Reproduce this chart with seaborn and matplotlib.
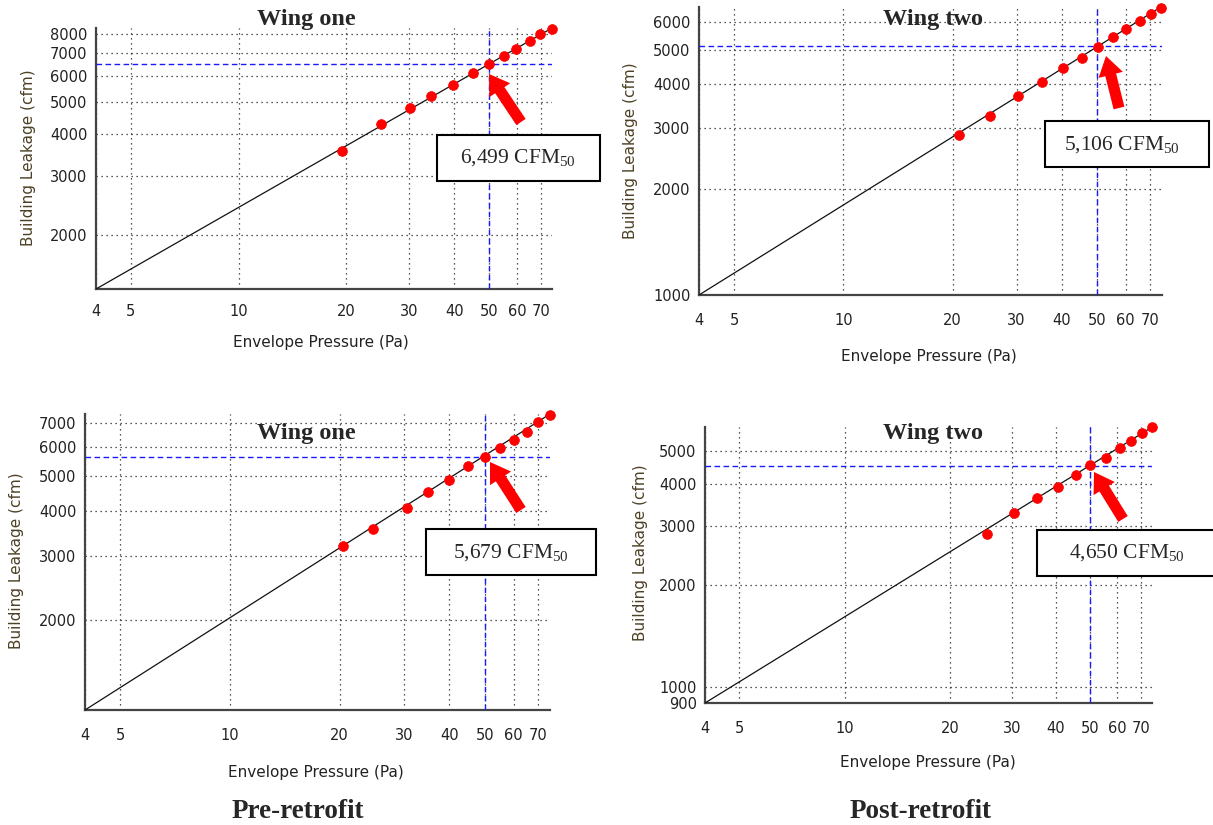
import matplotlib
matplotlib.use("Agg")
import matplotlib.pyplot as plt
import seaborn as sns
from matplotlib.patches import Rectangle, FancyArrowPatch
from matplotlib.ticker import FixedLocator, FixedFormatter, NullFormatter, NullLocator

# ---------------- data ----------------
w1pre_pa = [19.5, 25.0, 30.2, 34.4, 39.6, 45.0, 50.0, 55.0, 59.5, 65.0, 69.6, 74.8]
w1pre_cfm = [3565, 4285, 4797, 5215, 5611, 6110, 6486, 6860, 7230, 7603, 8000, 8300]
w2pre_pa = [20.8, 25.4, 30.3, 35.3, 40.4, 45.5, 50.2, 55.5, 60.0, 65.6, 70.4, 75.2]
w2pre_cfm = [2857, 3244, 3700, 4038, 4437, 4737, 5081, 5451, 5742, 6053, 6312, 6579]
w1post_pa = [20.4, 24.7, 30.5, 35.0, 40.0, 44.9, 50.0, 55.2, 60.1, 65.3, 70.2, 75.5]
w1post_cfm = [3205, 3573, 4066, 4510, 4869, 5322, 5625, 5957, 6271, 6600, 7060, 7385]
w2post_pa = [25.4, 30.5, 35.3, 40.5, 45.6, 50.1, 55.6, 60.9, 65.6, 70.6, 75.3]
w2post_cfm = [2850, 3270, 3636, 3922, 4259, 4541, 4787, 5114, 5366, 5647, 5884]

# fitted power-law line end points (pressure, flow)
fit_pa = [[4, 75.0], [4, 75.5], [4, 75.5], [4, 75.3]]
fit_cfm = [[1378, 8330], [1000, 6650], [1125, 7410], [897, 5890]]

# CFM50 reference levels (dashed lines) and box texts
ref_pa = 50
ref_cfm = [6500, 5110, 5650, 4510]
box_texts = ["6,499", "5,106", "5,679", "4,650"]
titles = ["Wing one", "Wing two", "Wing one", "Wing two"]
x_ticks = [4, 5, 10, 20, 30, 40, 50, 60, 70]
x_tick_labels = ["4", "5", "10", "20", "30", "40", "50", "60", "70"]
x_minor = [6, 7, 8, 9]
y_ticks = [[2000, 3000, 4000, 5000, 6000, 7000, 8000],
           [1000, 2000, 3000, 4000, 5000, 6000],
           [2000, 3000, 4000, 5000, 6000, 7000],
           [900, 1000, 2000, 3000, 4000, 5000]]
xlims = [(4, 75.0), (4, 75.5), (4, 75.5), (4, 75.3)]
ylims = [(1378, 8330), (1000, 6620), (1125, 7410), (897, 5896)]
group_labels = ["Pre-retrofit", "Post-retrofit"]

series_pa = [w1pre_pa, w2pre_pa, w1post_pa, w2post_pa]
series_cfm = [w1pre_cfm, w2pre_cfm, w1post_cfm, w2post_cfm]

# ---------------- layout (pixels) ----------------
W, H = 1213, 825
rects = [(96, 28, 552, 289), (699, 7, 1162, 295), (85, 414, 550, 710), (705, 427, 1152, 703)]
title_pos = [(306, 19), (933, 20), (306, 433), (933, 433)]
xlab_pos = [(321, 343), (929, 356), (316, 773), (928, 762)]
ylab_pos = [(29, 158), (631, 151), (17, 561), (640, 553)]
tick_pads = [8, 10, 10, 10]
boxes = [(437, 135, 600, 181), (1045, 121, 1209, 167), (426, 529, 596, 575), (1037, 530, 1216, 576)]
box_text_pos = [(518, 158), (1122, 145), (511, 553), (1127, 553)]
arrows = [((521, 122), (489, 74)), ((1119, 108), (1106, 56)),
          ((521, 510), (490, 462)), ((1123, 519), (1094, 472))]
group_pos = [(298, 811), (921, 811)]

sns.set_style("white")
plt.rcParams["font.family"] = ["DejaVu Sans"]
plt.rcParams["mathtext.fontset"] = "custom"
plt.rcParams["mathtext.rm"] = "Liberation Serif"

fig = plt.figure(figsize=(W / 100, H / 100), dpi=100)
fig.patch.set_facecolor("white")


def fx(px):
    return px / W


def fy(py):
    return 1 - py / H


for i in range(4):
    l, t, r, b = rects[i]
    ax = fig.add_axes([fx(l), fy(b), (r - l) / W, (b - t) / H])
    ax.set_facecolor("white")
    ax.set_xscale("log")
    ax.set_yscale("log")

    sns.lineplot(x=fit_pa[i], y=fit_cfm[i], ax=ax, color="#111111", lw=0.9, zorder=3)
    sns.scatterplot(x=series_pa[i], y=series_cfm[i], ax=ax, color="#ff0000", s=50,
                    edgecolor="#ff0000", linewidth=0.5, zorder=5, clip_on=False)
    ax.axvline(ref_pa, color="#1a1aff", lw=1.0, ls=(0, (4, 2.5)), zorder=4)
    ax.axhline(ref_cfm[i], color="#1a1aff", lw=1.0, ls=(0, (4, 2.5)), zorder=4)

    ax.set_xlim(*xlims[i])
    ax.set_ylim(*ylims[i])

    ax.xaxis.set_major_locator(FixedLocator(x_ticks))
    ax.xaxis.set_major_formatter(FixedFormatter(x_tick_labels))
    ax.xaxis.set_minor_locator(FixedLocator(x_minor))
    ax.xaxis.set_minor_formatter(NullFormatter())
    ax.yaxis.set_major_locator(FixedLocator(y_ticks[i]))
    ax.yaxis.set_major_formatter(FixedFormatter([str(v) for v in y_ticks[i]]))
    ax.yaxis.set_minor_locator(NullLocator())

    ax.grid(True, which="major", ls=(0, (1, 3)), color="#222222", lw=0.9)
    ax.set_axisbelow(True)

    for s in ["top", "right"]:
        ax.spines[s].set_visible(False)
    for s in ["left", "bottom"]:
        ax.spines[s].set_color("#444444")
        ax.spines[s].set_linewidth(1.6)

    ax.tick_params(axis="x", which="major", direction="inout", length=6, width=1,
                   color="#333333", pad=tick_pads[i], labelsize=10.5, labelcolor="#222222")
    ax.tick_params(axis="x", which="minor", direction="inout", length=5, width=1,
                   color="#333333")
    ax.tick_params(axis="y", which="major", direction="out", length=5, width=1,
                   color="#333333", pad=1, labelsize=10.5, labelcolor="#222222")

    ax.set_xlabel("Envelope Pressure (Pa)", fontsize=11, color="#222222", va="center")
    ax.set_ylabel("Building Leakage (cfm)", fontsize=11, color="#4d4125", va="center")
    xl, yl = xlab_pos[i]
    ax.xaxis.set_label_coords((xl - l) / (r - l), (b - yl) / (b - t))
    xl, yl = ylab_pos[i]
    ax.yaxis.set_label_coords((xl - l) / (r - l), (b - yl) / (b - t))

    # title
    tx, ty = title_pos[i]
    fig.text(fx(tx), fy(ty), titles[i], ha="center", va="center", fontsize=17.5,
             fontweight="bold", family="Liberation Serif", zorder=6)

    # annotation box
    bl, bt, br, bb = boxes[i]
    fig.add_artist(Rectangle((fx(bl), fy(bb)), (br - bl) / W, (bb - bt) / H,
                             transform=fig.transFigure, facecolor="white",
                             edgecolor="black", lw=1.5, zorder=6))
    bx, by = box_text_pos[i]
    fig.text(fx(bx), fy(by), box_texts[i] + r" CFM$_{\mathrm{50}}$", ha="center", va="center",
             fontsize=15.5, family="Liberation Serif", zorder=7)

    # arrow
    (ax0, ay0), (ax1, ay1) = arrows[i]
    fig.add_artist(FancyArrowPatch((fx(ax0), fy(ay0)), (fx(ax1), fy(ay1)),
                                   transform=fig.transFigure,
                                   arrowstyle="simple,head_length=14,head_width=18,tail_width=8",
                                   mutation_scale=1, color="#ff0000", lw=0,
                                   shrinkA=0, shrinkB=0, zorder=6))

for j in range(2):
    gx, gy = group_pos[j]
    fig.text(fx(gx), fy(gy), group_labels[j], ha="center", va="center", fontsize=19.5,
             fontweight="bold", family="Liberation Serif")

fig.savefig("out.png", dpi=100, facecolor="white")
